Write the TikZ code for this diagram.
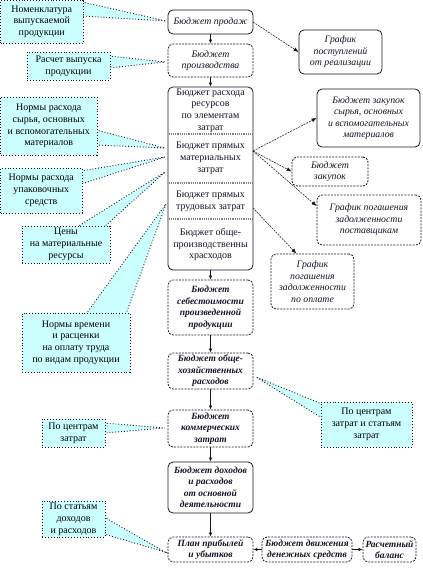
\documentclass[tikz,border=0pt]{standalone}
\usepackage{fontspec}
\setmainfont{Liberation Serif}
\usetikzlibrary{arrows.meta,backgrounds}
\definecolor{callfill}{RGB}{204,255,255}
\definecolor{ink}{RGB}{20,20,40}
\begin{document}
\begin{tikzpicture}[x=1pt,y=-1pt,
  font=\fontsize{10}{11.8}\selectfont,
  box/.style={draw=ink, rounded corners=5pt, align=center, inner sep=1pt, line width=0.8pt, text=ink},
  dashbox/.style={box, dash pattern=on 2pt off 1.2pt},
  it/.style={font=\fontsize{9.8}{11.5}\selectfont\itshape},
  bit/.style={font=\fontsize{9.5}{11.5}\selectfont\itshape\bfseries},
  sect/.style={align=center, inner sep=0pt, text=ink},
  callout/.style={draw=ink, fill=callfill, dotted, line width=0.9pt, align=center, inner sep=1pt, text=black},
  wedge/.style={draw=ink, fill=callfill, dotted, line width=0.9pt},
  divider/.style={draw=gray, densely dotted, line width=1.2pt},
  varrow/.style={draw=ink, line width=0.7pt, -{Latex[length=4pt,width=3.5pt]}},
  conn/.style={draw=ink, line width=0.55pt, dash pattern=on 2pt off 1pt, -{Latex[length=5pt,width=4pt]}}
]
\useasboundingbox (0,0) rectangle (423,573);

% ---- central column ----
\node[box, it, minimum width=85pt, minimum height=24pt] (b1) at (210.5,22) {Бюджет продаж};
\node[dashbox, it, minimum width=85pt, minimum height=33pt] (b2) at (210.5,60.5) {Бюджет\\производства};
\node[box, minimum width=85pt, minimum height=183pt] (big) at (210.5,178.5) {};
\node[sect] (s1) at (210.5,110.5) {Бюджет расхода\\ресурсов\\по элементам\\затрат};
\node[sect] (s2) at (210.5,158.5) {Бюджет прямых\\материальных\\затрат};
\node[sect] (s3) at (210.5,201) {Бюджет прямых\\трудовых затрат};
\node[sect] (s4) at (210.5,244.5) {Бюджет обще-\\производственны\\храсходов};
\draw[divider] (168.5,134) -- (252.5,134);
\draw[divider] (168.5,183) -- (252.5,183);
\draw[divider] (168.5,219) -- (252.5,219);
\node[dashbox, bit, minimum width=85pt, minimum height=55pt] (b4) at (210.5,307.5) {Бюджет\\себестоимости\\произведенной\\продукции};
\node[dashbox, bit, minimum width=85pt, minimum height=36pt] (b5) at (210.5,371) {Бюджет обще-\\хозяйственных\\расходов};
\node[dashbox, bit, minimum width=85pt, minimum height=37pt] (b6) at (210.5,428.5) {Бюджет\\коммерческих\\затрат};
\node[box, bit, minimum width=85pt, minimum height=51pt] (b7) at (210.5,487.5) {Бюджет доходов\\и расходов\\от основной\\деятельности};
\node[dashbox, bit, minimum width=85pt, minimum height=25pt] (b8) at (210.5,549.5) {План прибылей\\и убытков};
\node[dashbox, bit, minimum width=90pt, minimum height=25pt] (b9) at (307,549.5) {Бюджет движения\\денежных средств};
\node[dashbox, bit, minimum width=53pt, minimum height=25pt] (b10) at (389.5,549.5) {Расчетный\\баланс};

\draw[varrow] (b1) -- (b2);
\draw[varrow] (b2) -- (big);
\draw[varrow] (big) -- (b4);
\draw[varrow] (b4) -- (b5);
\draw[varrow] (b5) -- (b6);
\draw[varrow] (b6) -- (b7);
\draw[varrow] (b7) -- (b8);
\draw[varrow] (b9) -- (b8);
\draw[varrow] (b9) -- (b10);

% ---- right column ----
\node[box, it, minimum width=83pt, minimum height=44pt] (r1) at (340.5,52) {График\\поступлений\\от реализации};
\node[box, it, minimum width=103pt, minimum height=58pt] (r2) at (368.5,118) {Бюджет закупок\\сырья, основных\\и вспомогательных\\материалов};
\node[dashbox, it, minimum width=76pt, minimum height=29pt] (r3) at (330,171.5) {Бюджет\\закупок};
\node[dashbox, it, minimum width=104pt, minimum height=50pt] (r4) at (369,220) {График погашения\\задолженности\\поставщикам};
\node[dashbox, it, minimum width=83pt, minimum height=55pt] (r5) at (312.5,281.5) {График\\погашения\\задолженности\\по оплате};

\coordinate (e1) at (253,22);
\coordinate (e2) at (253,151);
\coordinate (e3) at (253,208);
\draw[conn] (e1) -- (r1.west);
\draw[conn] (e2) -- (r2.west);
\draw[conn] (e2) -- (r3.west);
\draw[conn] (e2) -- (r4.165);
\draw[conn] (e3) -- (r5.120);

% ---- callouts ----
\node[callout, minimum width=82.5pt, minimum height=42.5pt] (c1) at (41.75,21.75) {Номенклатура\\выпускаемой\\продукции};
\node[callout, minimum width=83pt, minimum height=28pt] (c2) at (68.5,66) {Расчет выпуска\\продукции};
\node[callout, minimum width=96.5pt, minimum height=58pt] (c3) at (48.75,126) {Нормы расхода\\сырья, основных\\и вспомогательных\\материалов};
\node[callout, minimum width=81.5pt, minimum height=45pt] (c4) at (41.25,190.5) {Нормы расхода\\упаковочных\\средств};
\node[callout, minimum width=88pt, minimum height=37pt] (c5) at (66,244.5) {Цены\\на материальные\\ресурсы};
\node[callout, minimum width=108pt, minimum height=59pt] (c6) at (76,342.5) {Нормы времени\\и расценки\\на оплату труда\\по видам продукции};
\node[callout, minimum width=63pt, minimum height=28pt] (c7) at (73.5,433) {По центрам\\затрат};
\node[callout, minimum width=91pt, minimum height=45pt] (c8) at (366.5,424.5) {По центрам\\затрат и статьям\\затрат};
\node[callout, minimum width=63pt, minimum height=36pt] (c9) at (73.5,519) {По статьям\\доходов\\и расходов};

\coordinate (t1) at (166,21);
\coordinate (t2) at (165,62);
\coordinate (t3) at (165,148);
\coordinate (t4) at (165,157);
\coordinate (t5) at (165,172);
\coordinate (t6) at (166,204);
\coordinate (t7) at (165,428);
\coordinate (t8) at (256,377);
\coordinate (t9) at (165,552);

\begin{pgfonlayer}{background}
\path[wedge] (82,2) -- (t1) -- (82,16);
\path[wedge] (109,56) -- (t2) -- (109,68);
\path[wedge] (96,130) -- (t3) -- (96,145);
\path[wedge] (81,171) -- (t4) -- (81,184);
\path[wedge] (77,227) -- (t5) -- (104,227);
\path[wedge] (86,314) -- (t6) -- (126,314);
\path[wedge] (104,423) -- (t7) -- (104,433);
\path[wedge] (322,404) -- (t8) -- (322,418);
\path[wedge] (104,517) -- (t9) -- (104,534);
\end{pgfonlayer}
\end{tikzpicture}
\end{document}
